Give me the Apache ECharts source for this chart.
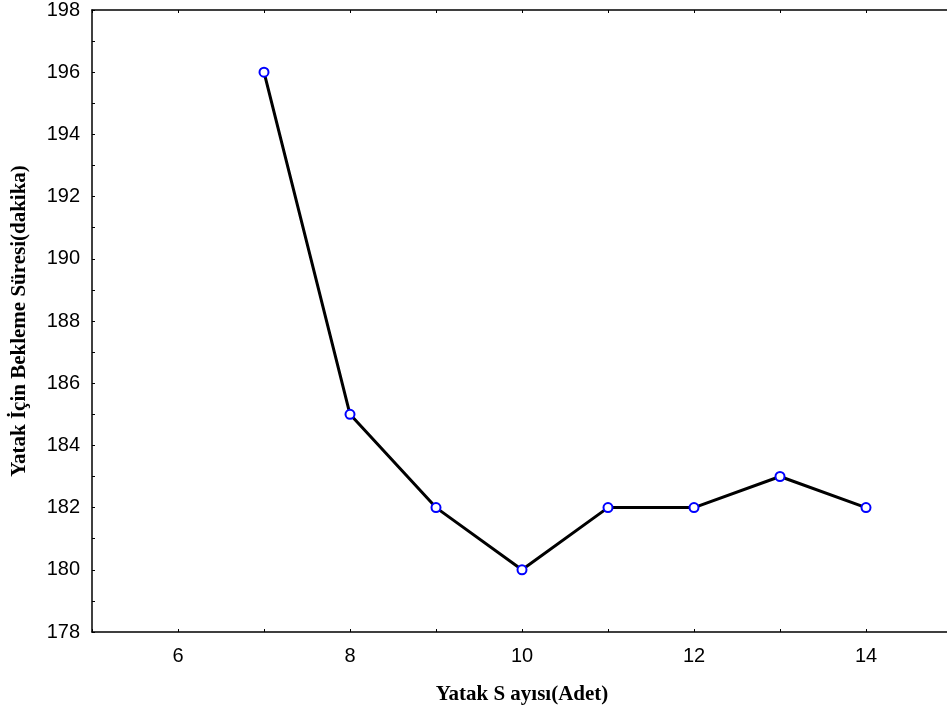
<!DOCTYPE html>
<html>
<head>
<meta charset="utf-8">
<script src="https://cdn.jsdelivr.net/npm/echarts@6/dist/echarts.min.js"></script>
<style>
  html, body { margin: 0; padding: 0; background: #fff; }
  #chart { width: 947px; height: 713px; }
</style>
</head>
<body>
<div id="chart"></div>
<script>
// yatak sayısı ve bekleme süresi
const bedCounts = [7, 8, 9, 10, 11, 12, 13, 14]
const waitMinutes = [196, 185, 182, 180, 182, 182, 183, 182]
const xTitle = 'Yatak S ayısı(Adet)'
const yTitle = 'Yatak İçin Bekleme Süresi(dakika)'

const chart = echarts.init(document.getElementById('chart'))
const tickFont = { fontFamily: 'Liberation Sans', fontSize: 20, color: '#000' }
const titleFont = { fontFamily: 'Liberation Serif', fontSize: 21, fontWeight: 'bold', color: '#000' }
const evenOnly = v => (v % 2 === 0 ? String(v) : '')

chart.setOption({
  animation: false,
  grid: { left: 92, top: 10, bottom: 81, width: 860, outerBoundsMode: 'none' },
  xAxis: [
    {
      type: 'value', min: 5, max: 15, interval: 1,
      name: xTitle, nameLocation: 'middle', nameGap: 52, nameTextStyle: titleFont,
      axisLine: { lineStyle: { color: '#000', width: 1.5 } },
      axisTick: { inside: true, length: 3, lineStyle: { color: '#000' } },
      axisLabel: Object.assign({ formatter: evenOnly, margin: 14 }, tickFont),
      splitLine: { show: false }
    },
    {
      type: 'value', position: 'top', min: 5, max: 15, interval: 1,
      axisLine: { lineStyle: { color: '#000', width: 1.5 } },
      axisTick: { inside: true, length: 3, lineStyle: { color: '#000' } },
      axisLabel: { show: false },
      splitLine: { show: false }
    }
  ],
  yAxis: {
    type: 'value', min: 178, max: 198, interval: 1,
    name: yTitle, nameLocation: 'middle', nameGap: 62, nameTextStyle: titleFont,
    axisLine: { show: true, lineStyle: { color: '#000', width: 1.5 } },
    axisTick: { show: true, inside: true, length: 3, lineStyle: { color: '#000' } },
    axisLabel: Object.assign({ formatter: evenOnly, margin: 12 }, tickFont),
    splitLine: { show: false }
  },
  series: [
    {
      type: 'line',
      data: bedCounts.map((x, i) => [x, waitMinutes[i]]),
      symbol: 'emptyCircle',
      symbolSize: 9,
      lineStyle: { color: '#000', width: 3 },
      itemStyle: { color: '#0000ff', borderWidth: 1.5 }
    }
  ]
})
</script>
</body>
</html>
